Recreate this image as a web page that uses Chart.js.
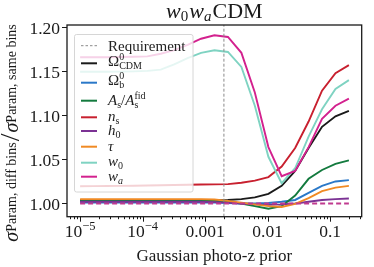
<!DOCTYPE html>
<html lang="en">
<head>
<meta charset="UTF-8">
<title>w0waCDM photo-z prior</title>
<script src="https://cdn.jsdelivr.net/npm/chart.js"></script>
<style>
  body { margin: 0; background: #fff; }
  canvas { display: block; }
</style>
</head>
<body>
<canvas id="chart" width="374" height="267"></canvas>
<script>
// Gaussian photo-z prior widths (log-spaced, 1e-5 .. 0.2)
const priors = [1.0e-5, 1.64e-5, 2.69e-5, 4.42e-5, 7.25e-5, 1.19e-4, 1.95e-4, 3.20e-4, 5.25e-4, 8.62e-4,
                1.41e-3, 2.32e-3, 3.81e-3, 6.25e-3, 1.03e-2, 1.68e-2, 2.76e-2, 4.53e-2, 7.43e-2, 0.122, 0.2];

// sigma(diff bins) / sigma(same bins) per parameter
const omegaCDM = [1.003, 1.003, 1.003, 1.003, 1.003, 1.003, 1.003, 1.003, 1.003, 1.003,
                  1.0035, 1.004, 1.005, 1.007, 1.011, 1.020, 1.037, 1.063, 1.087, 1.099, 1.105];
const omegaB   = [1.001, 1.001, 1.001, 1.001, 1.001, 1.001, 1.001, 1.001, 1.001, 1.001,
                  1.001, 1.0005, 1.000, 1.000, 1.0005, 1.002, 1.004, 1.012, 1.020, 1.025, 1.0265];
const aS       = [1.004, 1.004, 1.004, 1.004, 1.004, 1.004, 1.004, 1.004, 1.004, 1.004,
                  1.003, 1.002, 1.000, 0.997, 0.994, 0.997, 1.009, 1.028, 1.038, 1.045, 1.049];
const nS       = [1.0195, 1.0197, 1.0199, 1.020, 1.0202, 1.0205, 1.0207, 1.021, 1.0212, 1.0215,
                  1.0217, 1.022, 1.0235, 1.026, 1.030, 1.042, 1.063, 1.093, 1.128, 1.148, 1.157];
const h0       = [1.002, 1.002, 1.002, 1.002, 1.002, 1.002, 1.002, 1.002, 1.002, 1.002,
                  1.0015, 1.001, 1.000, 0.999, 0.9985, 0.999, 1.000, 1.002, 1.004, 1.005, 1.0057];
const tau      = [1.005, 1.005, 1.005, 1.005, 1.005, 1.005, 1.005, 1.005, 1.005, 1.005,
                  1.0045, 1.003, 1.001, 0.999, 0.997, 0.996, 0.9995, 1.006, 1.014, 1.018, 1.020];
const w0       = [1.1495, 1.1495, 1.1495, 1.1497, 1.150, 1.1505, 1.152, 1.158, 1.165, 1.171,
                  1.174, 1.172, 1.155, 1.111, 1.053, 1.023, 1.040, 1.076, 1.107, 1.130, 1.140];
const wa       = [1.166, 1.166, 1.166, 1.1662, 1.1665, 1.167, 1.170, 1.174, 1.180, 1.187,
                  1.191, 1.189, 1.171, 1.126, 1.064, 1.031, 1.037, 1.064, 1.096, 1.111, 1.119];
const unity = 1.0;          // dashed reference level
const requirement = 0.002;  // vertical requirement line

const yTicks = [1.00, 1.05, 1.10, 1.15, 1.20];
const yTickLabels = ['1.00', '1.05', '1.10', '1.15', '1.20'];
const xTicks = [1e-5, 1e-4, 1e-3, 1e-2, 1e-1];
const xTickLabels = ['10^−5', '10^−4', '0.001', '0.01', '0.1'];

const SERIF = '"Liberation Serif", "DejaVu Serif", serif';
function font(size, italic) { return (italic ? 'italic ' : '') + size + 'px ' + SERIF; }

// draws a row of text pieces (for sub/superscripts); stay = stack with next piece
function drawRich(ctx, x, y, segs, align) {
    let pos = [], cx = 0, pend = 0;
    segs.forEach(s => {
        ctx.font = s.font;
        const w = ctx.measureText(s.t).width;
        cx += (s.dx || 0);
        pos.push(cx);
        if (s.stay) pend = Math.max(pend, w);
        else { cx += Math.max(w, pend); pend = 0; }
    });
    let x0 = x;
    if (align === 'center') x0 -= cx / 2;
    if (align === 'right') x0 -= cx;
    ctx.textAlign = 'left';
    ctx.textBaseline = 'alphabetic';
    segs.forEach((s, i) => {
        ctx.font = s.font;
        ctx.fillText(s.t, x0 + pos[i], y + (s.dy || 0));
    });
}

const series = [
    { label: 'CDM', data: omegaCDM, color: '#1a1a1a',
      text: [{ t: 'Ω', font: font(15) }, { t: '0', font: font(10), dy: -6, stay: true }, { t: 'CDM', font: font(10), dy: 3 }] },
    { label: 'b', data: omegaB, color: '#2a78c8',
      text: [{ t: 'Ω', font: font(15) }, { t: '0', font: font(10), dy: -6, stay: true }, { t: 'b', font: font(10), dy: 3 }] },
    { label: 'As', data: aS, color: '#137a3e',
      text: [{ t: 'A', font: font(15, true) }, { t: 's', font: font(10), dy: 3 }, { t: '/', font: font(15) },
             { t: 'A', font: font(15, true) }, { t: 'fid', font: font(10), dy: -6, stay: true }, { t: 's', font: font(10), dy: 3 }] },
    { label: 'ns', data: nS, color: '#c8202f',
      text: [{ t: 'n', font: font(15, true) }, { t: 's', font: font(10), dy: 3 }] },
    { label: 'h0', data: h0, color: '#7b3294',
      text: [{ t: 'h', font: font(15, true) }, { t: '0', font: font(10), dy: 3 }] },
    { label: 'tau', data: tau, color: '#f08a24',
      text: [{ t: 'τ', font: font(15, true) }] },
    { label: 'w0', data: w0, color: '#7fd3c2',
      text: [{ t: 'w', font: font(15, true) }, { t: '0', font: font(10), dy: 3 }] },
    { label: 'wa', data: wa, color: '#d3218e',
      text: [{ t: 'w', font: font(15, true) }, { t: 'a', font: font(10, true), dy: 3 }] }
];

const Y_MIN = 0.985, Y_MAX = 1.2026;

const datasets = series.map((s, i) => ({
    label: s.label,
    data: priors.map((p, k) => ({ x: p, y: s.data[k] })),
    borderColor: s.color,
    borderWidth: 1.9,
    pointRadius: 0,
    tension: 0,
    order: 20 - i
}));
datasets.push({
    label: 'unity',
    data: priors.map(p => ({ x: p, y: unity })),
    borderColor: '#c03a8f',
    borderWidth: 2,
    borderDash: [5, 3],
    pointRadius: 0,
    order: 1
});
datasets.push({
    label: 'Requirement',
    data: [{ x: requirement, y: Y_MIN }, { x: requirement, y: Y_MAX }],
    borderColor: '#8a8a8a',
    borderWidth: 1,
    borderDash: [3, 2],
    pointRadius: 0,
    order: 0
});

// legend drawn inside the plot, over the lines (semi-transparent box)
const legendBox = {
    id: 'legendBox',
    afterDatasetsDraw(chart) {
        const ctx = chart.ctx;
        ctx.save();
        ctx.beginPath();
        ctx.roundRect(74.5, 34.5, 118.5, 157.5, 2);
        ctx.fillStyle = 'rgba(255,255,255,0.8)';
        ctx.fill();
        ctx.strokeStyle = '#d6d6d6';
        ctx.lineWidth = 1;
        ctx.stroke();

        const handleY = [45.7, 63.3, 82.7, 100.7, 117.3, 131, 146.7, 162.7, 176.7];
        const baseY = [50.5, 66, 85, 105, 120.5, 135, 150.5, 166, 180.5];
        // requirement entry
        ctx.strokeStyle = '#8a8a8a';
        ctx.lineWidth = 1;
        ctx.setLineDash([2.5, 2]);
        ctx.beginPath(); ctx.moveTo(81, handleY[0]); ctx.lineTo(97, handleY[0]); ctx.stroke();
        ctx.setLineDash([]);
        ctx.fillStyle = '#222';
        drawRich(ctx, 108, baseY[0], [{ t: 'Requirement', font: font(15) }], 'left');
        series.forEach((s, i) => {
            ctx.strokeStyle = s.color;
            ctx.lineWidth = 2;
            ctx.beginPath(); ctx.moveTo(81, handleY[i + 1]); ctx.lineTo(97, handleY[i + 1]); ctx.stroke();
            ctx.fillStyle = '#222';
            drawRich(ctx, 108, baseY[i + 1], s.text, 'left');
        });
        ctx.restore();
    }
};

// frame, ticks, tick labels, axis labels, title
const axesDecor = {
    id: 'axesDecor',
    afterDraw(chart) {
        const ctx = chart.ctx;
        const a = chart.chartArea;
        const xs = chart.scales.x, ys = chart.scales.y;
        ctx.save();
        ctx.strokeStyle = '#1a1a1a';
        ctx.fillStyle = '#1a1a1a';
        ctx.lineWidth = 1;

        // y ticks
        yTicks.forEach((v, i) => {
            const py = Math.round(ys.getPixelForValue(v)) + 0.5;
            ctx.beginPath(); ctx.moveTo(a.left - 5, py); ctx.lineTo(a.left, py); ctx.stroke();
            drawRich(ctx, a.left - 7, py + 6, [{ t: yTickLabels[i], font: font(17.5) }], 'right');
        });

        // x ticks (major + minor on log axis)
        for (let e = -6; e <= 0; e++) {
            for (let k = 1; k <= 9; k++) {
                const v = k * Math.pow(10, e);
                if (v < xs.min || v > xs.max) continue;
                const px = Math.round(xs.getPixelForValue(v)) + 0.5;
                const len = k === 1 ? 5 : 2.5;
                ctx.beginPath(); ctx.moveTo(px, a.bottom); ctx.lineTo(px, a.bottom + len); ctx.stroke();
            }
        }
        xTicks.forEach((v, i) => {
            const px = xs.getPixelForValue(v);
            const parts = xTickLabels[i].split('^');
            const segs = [{ t: parts[0], font: font(17.5) }];
            if (parts[1]) segs.push({ t: parts[1], font: font(12.5), dy: -7 });
            drawRich(ctx, px, 237, segs, 'center');
        });

        // frame
        ctx.lineWidth = 1.3;
        ctx.strokeRect(a.left, a.top, a.right - a.left, a.bottom - a.top);

        // x label
        drawRich(ctx, (a.left + a.right) / 2, 261, [{ t: 'Gaussian photo-z prior', font: font(17) }], 'center');

        // title
        drawRich(ctx, (a.left + a.right) / 2, 18, [
            { t: 'w', font: font(22, true) }, { t: '0', font: font(15), dy: 3 },
            { t: 'w', font: font(22, true), dx: 1 }, { t: 'a', font: font(15, true), dy: 3 },
            { t: 'CDM', font: font(22), dx: 1 }
        ], 'center');

        // y label (rotated)
        ctx.translate(18, 133);
        ctx.rotate(-Math.PI / 2);
        drawRich(ctx, 0, 0, [
            { t: 'σ', font: font(20, true) },
            { t: 'Param, diff bins', font: font(14), dy: -2 },
            { t: '/', font: font(28), dy: 1, dx: 1 },
            { t: 'σ', font: font(20, true), dx: 1 },
            { t: 'Param, same bins', font: font(14), dy: -2 }
        ], 'center');
        ctx.restore();
    }
};

new Chart(document.getElementById('chart').getContext('2d'), {
    type: 'line',
    data: { datasets: datasets },
    options: {
        responsive: false,
        animation: false,
        layout: { padding: { left: 67, right: 12.3, top: 25, bottom: 50.3 } },
        plugins: { legend: { display: false }, tooltip: { enabled: false }, title: { display: false } },
        scales: {
            x: { type: 'logarithmic', display: false, min: Math.pow(10, -5.21), max: Math.pow(10, -0.494) },
            y: { type: 'linear', display: false, min: Y_MIN, max: Y_MAX }
        }
    },
    plugins: [legendBox, axesDecor]
});
</script>
</body>
</html>
